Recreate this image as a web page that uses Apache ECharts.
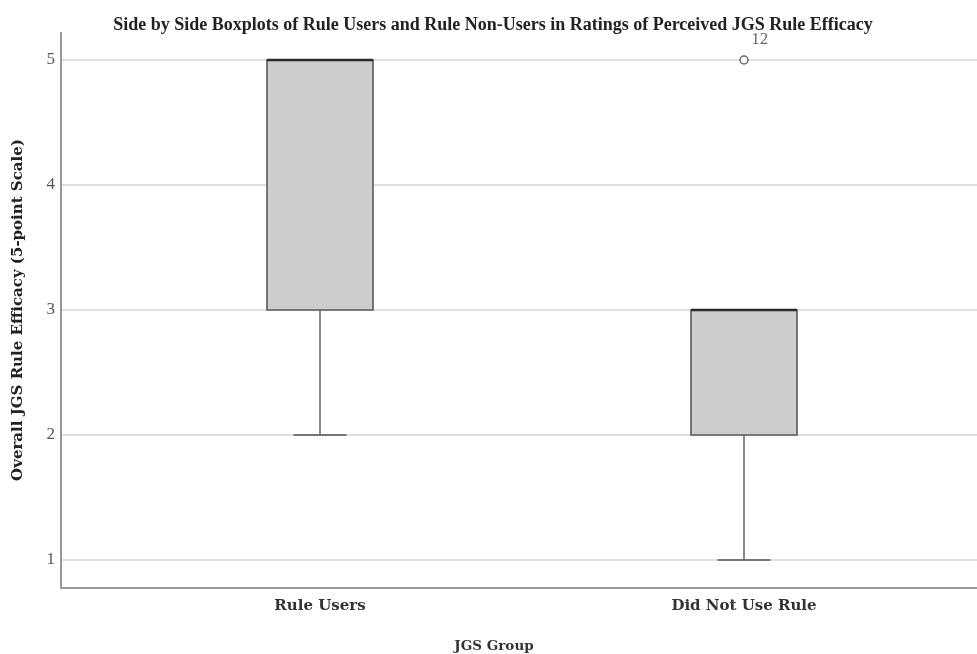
<!DOCTYPE html>
<html>
<head>
<meta charset="utf-8">
<style>
  html, body { margin: 0; padding: 0; background: #fff; }
  #chart { width: 977px; height: 654px; }
</style>
<script src="https://cdn.jsdelivr.net/npm/echarts@6/dist/echarts.min.js"></script>
</head>
<body>
<div id="chart"></div>
<script>
// Five-number summaries per group
var categories = ['Rule Users', 'Did Not Use Rule'];
var whiskerLow = [2, 1];
var quartile1 = [3, 2];
var medians = [5, 3];
var quartile3 = [5, 3];
var whiskerHigh = [5, 3];

// Outliers: group index, value, case label
var outlierGroup = [1];
var outlierValue = [5];
var outlierCase = ['12'];

var yTicks = [1, 2, 3, 4, 5];

var SERIF = '"Liberation Serif", "Times New Roman", serif';
var SERIF_B = '"DejaVu Serif", "Liberation Serif", serif';

var boxData = categories.map(function (c, i) {
  return [i, whiskerLow[i], quartile1[i], medians[i], quartile3[i], whiskerHigh[i]];
});
var outlierData = outlierGroup.map(function (g, i) {
  return [g, outlierValue[i], outlierCase[i]];
});

function renderBox(params, api) {
  var idx = api.value(0);
  var band = api.size([1, 0])[0];
  var half = band * 0.125;
  var capHalf = half * 0.5;
  var pLow = api.coord([idx, api.value(1)]);
  var pQ1 = api.coord([idx, api.value(2)]);
  var pMed = api.coord([idx, api.value(3)]);
  var pQ3 = api.coord([idx, api.value(4)]);
  var pHigh = api.coord([idx, api.value(5)]);
  var x = pQ1[0];
  var children = [];
  // lower whisker
  if (pLow[1] !== pQ1[1]) {
    children.push({ type: 'line', shape: { x1: x, y1: pQ1[1], x2: x, y2: pLow[1] },
      style: { stroke: '#666', lineWidth: 1.5 } });
    children.push({ type: 'line', shape: { x1: x - capHalf, y1: pLow[1], x2: x + capHalf, y2: pLow[1] },
      style: { stroke: '#555', lineWidth: 1.5 } });
  }
  // upper whisker
  if (pHigh[1] !== pQ3[1]) {
    children.push({ type: 'line', shape: { x1: x, y1: pQ3[1], x2: x, y2: pHigh[1] },
      style: { stroke: '#666', lineWidth: 1.5 } });
    children.push({ type: 'line', shape: { x1: x - capHalf, y1: pHigh[1], x2: x + capHalf, y2: pHigh[1] },
      style: { stroke: '#555', lineWidth: 1.5 } });
  }
  // box
  children.push({ type: 'rect',
    shape: { x: x - half, y: pQ3[1], width: half * 2, height: pQ1[1] - pQ3[1] },
    style: { fill: '#cccccc', stroke: '#5a5a5a', lineWidth: 1.6 } });
  // median
  children.push({ type: 'line', shape: { x1: x - half, y1: pMed[1], x2: x + half, y2: pMed[1] },
    style: { stroke: '#2a2a2a', lineWidth: 2.6 } });
  return { type: 'group', children: children };
}

var chart = echarts.init(document.getElementById('chart'), null, { renderer: 'canvas' });

chart.setOption({
  animation: false,
  backgroundColor: '#ffffff',
  title: [{
    text: 'Side by Side Boxplots of Rule Users and Rule Non-Users in Ratings of Perceived JGS Rule Efficacy',
    left: 488, top: 11, textAlign: 'center',
    textStyle: { fontFamily: SERIF, fontWeight: 'bold', fontSize: 18, color: '#222' }
  }, {
    text: 'JGS Group',
    left: 489, top: 634, textAlign: 'center',
    textStyle: { fontFamily: SERIF_B, fontWeight: 'bold', fontSize: 13.5, color: '#333' }
  }],
  grid: [
    // data area
    { left: 108, right: 21, top: 33, bottom: 66 },
    // tick labels and grid lines
    { left: 61, right: 0, top: 60, bottom: 94 },
    // frame lines
    { left: 61, right: 0, top: 33, bottom: 66 }
  ],
  xAxis: [{
    gridIndex: 0, type: 'category', data: categories, boundaryGap: true,
    axisLine: { show: false }, axisTick: { show: false }, splitLine: { show: false },
    axisLabel: { margin: 11, fontFamily: SERIF_B, fontWeight: 'bold', fontSize: 15, color: '#333' }
  }, {
    gridIndex: 1, type: 'value', min: 0, max: 1, show: false
  }, {
    gridIndex: 2, type: 'value', min: 0, max: 1,
    axisLine: { show: true, lineStyle: { color: '#999', width: 2 } },
    axisTick: { show: false }, axisLabel: { show: false }, splitLine: { show: false }
  }],
  yAxis: [{
    gridIndex: 0, type: 'value', min: 0.776, max: 5.216, show: false
  }, {
    gridIndex: 1, type: 'value', min: 1, max: 5, interval: 1,
    axisLine: { show: false }, axisTick: { show: false },
    axisLabel: { margin: 6, fontFamily: SERIF, fontSize: 17, color: '#555',
      formatter: function (v) { return yTicks.indexOf(v) >= 0 ? String(v) : ''; } },
    splitLine: { show: true, lineStyle: { color: '#d4d4d4', width: 1.5 } },
    name: 'Overall JGS Rule Efficacy (5-point Scale)',
    nameLocation: 'middle', nameGap: 35,
    nameTextStyle: { fontFamily: SERIF_B, fontWeight: 'bold', fontSize: 15, color: '#222' }
  }, {
    gridIndex: 2, type: 'value', min: 0, max: 1,
    axisLine: { show: true, lineStyle: { color: '#999', width: 2 } },
    axisTick: { show: false }, axisLabel: { show: false }, splitLine: { show: false }
  }],
  series: [{
    type: 'custom',
    xAxisIndex: 0, yAxisIndex: 0,
    renderItem: renderBox,
    data: boxData,
    z: 3
  }, {
    type: 'scatter',
    xAxisIndex: 0, yAxisIndex: 0,
    data: outlierData,
    symbol: 'circle', symbolSize: 8,
    itemStyle: { color: '#ffffff', borderColor: '#444', borderWidth: 1.5 },
    label: {
      show: true, position: [12, -24],
      formatter: function (p) { return p.value[2]; },
      fontFamily: SERIF, fontSize: 17, color: '#444'
    },
    z: 4
  }]
});
</script>
</body>
</html>
